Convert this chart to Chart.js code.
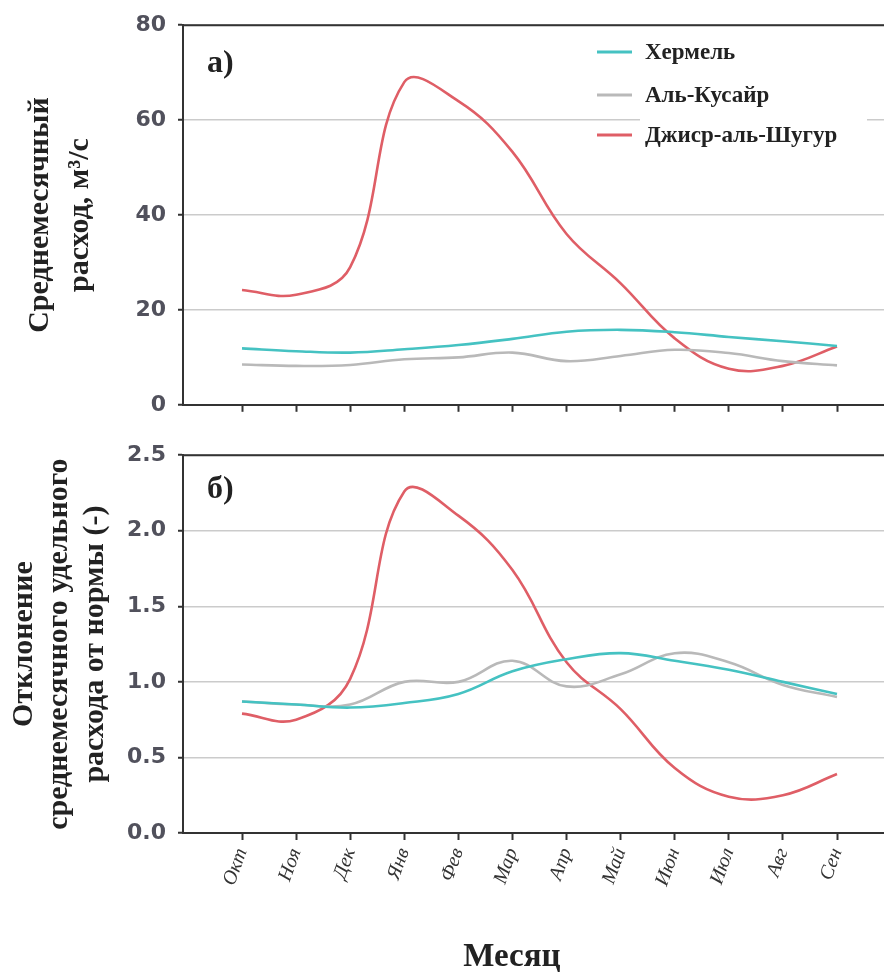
<!DOCTYPE html>
<html>
<head>
<meta charset="utf-8">
<script src="https://cdn.jsdelivr.net/npm/chart.js@4.4.1/dist/chart.umd.min.js"></script>
<style>
    body { margin: 0; background: #fff; }
    #wrap { position: relative; width: 884px; height: 974px; overflow: hidden; background: #fff; }
    #wrap canvas { position: absolute; left: 0; }
    #flowChart { top: 0; }
    #devChart { top: 430px; }
    #xTitle {
        position: absolute; top: 939px; left: 412px; width: 200px; text-align: center;
        font: bold 33px 'Liberation Serif', serif; line-height: 33px; color: #222;
    }
</style>
</head>
<body>
<div id="wrap">
    <canvas id="flowChart" width="884" height="430"></canvas>
    <canvas id="devChart" width="884" height="544"></canvas>
    <div id="xTitle">Месяц</div>
</div>
<script>
// --- data ---
const MONTHS = ['Окт', 'Ноя', 'Дек', 'Янв', 'Фев', 'Мар', 'Апр', 'Май', 'Июн', 'Июл', 'Авг', 'Сен'];
const SERIES_NAMES = ['Хермель', 'Аль-Кусайр', 'Джиср-аль-Шугур'];

// a) mean monthly discharge, m3/s
const FLOW_HERMEL = [11.9, 11.3, 11.0, 11.7, 12.6, 13.9, 15.4, 15.8, 15.3, 14.3, 13.4, 12.4];
const FLOW_QUSAYR = [8.5, 8.2, 8.4, 9.6, 10.0, 11.0, 9.2, 10.3, 11.6, 10.9, 9.2, 8.3];
const FLOW_SHUGHUR = [24.2, 23.2, 29.0, 68.0, 64.0, 53.3, 36.0, 25.6, 14.0, 7.6, 8.2, 12.3];
const FLOW_TICKS = [0, 20, 40, 60, 80];

// б) deviation of specific discharge from the norm
const DEV_HERMEL = [0.87, 0.85, 0.83, 0.86, 0.92, 1.07, 1.15, 1.19, 1.14, 1.08, 1.00, 0.92];
const DEV_QUSAYR = [0.87, 0.85, 0.85, 1.00, 1.00, 1.14, 0.97, 1.05, 1.19, 1.13, 0.98, 0.90];
const DEV_SHUGHUR = [0.79, 0.75, 1.02, 2.26, 2.10, 1.74, 1.13, 0.82, 0.43, 0.24, 0.25, 0.39];
const DEV_TICKS = [0, 0.5, 1.0, 1.5, 2.0, 2.5];

const COLORS = ['#45c2c2', '#b9b9b9', '#df5e66'];

// plot frame (chart area) in page pixels
const AREA_LEFT = 183;
const FIRST_X = 242, LAST_X = 837, RIGHT_X = 884;
const STEP = (LAST_X - FIRST_X) / (MONTHS.length - 1);
const X_MIN = -(FIRST_X - AREA_LEFT) / STEP;
const X_MAX = (MONTHS.length - 1) + (RIGHT_X - LAST_X) / STEP;

const TICK_FONT = { family: "'DejaVu Sans', Verdana, sans-serif", size: 22, weight: 'bold' };
const TITLE_FONT = "'Liberation Serif', 'Times New Roman', serif";

function toPoints(arr) {
    return arr.map((v, i) => ({ x: i, y: v }));
}

function makeDatasets(series) {
    return series.map((vals, i) => ({
        label: SERIES_NAMES[i],
        data: toPoints(vals),
        borderColor: COLORS[i],
        borderWidth: 2.6,
        pointRadius: 0,
        tension: 0.4,
        fill: false
    }));
}

function xScale(showLabels, canvasBottomSpace) {
    return {
        type: 'linear',
        min: X_MIN,
        max: X_MAX,
        afterBuildTicks: s => { s.ticks = MONTHS.map((m, i) => ({ value: i })); },
        afterFit: s => { s.height = canvasBottomSpace; },
        grid: { drawOnChartArea: false, tickLength: 7, tickColor: '#333', tickWidth: 2 },
        border: { color: '#333', width: 2 },
        ticks: {
            display: showLabels,
            autoSkip: false,
            minRotation: 70,
            maxRotation: 70,
            padding: 5,
            color: '#333',
            font: { family: TITLE_FONT, size: 20, style: 'italic' },
            callback: v => MONTHS[v] ?? ''
        }
    };
}

function yScale(min, max, tickList, fmt, titleLines, titleLH, titlePad) {
    return {
        min: min,
        max: max,
        afterBuildTicks: s => { s.ticks = tickList.map(v => ({ value: v })); },
        afterFit: s => { s.width = AREA_LEFT; },
        grid: { color: '#cbcbcb', lineWidth: 1.5, tickLength: 5, tickColor: '#333', tickWidth: 2 },
        border: { color: '#333', width: 2 },
        ticks: { color: '#51515c', font: TICK_FONT, padding: 12, callback: fmt },
        title: {
            display: true,
            text: titleLines,
            color: '#222',
            font: { family: TITLE_FONT, size: 30, weight: 'bold', lineHeight: titleLH },
            padding: { top: titlePad, bottom: 0 }
        }
    };
}

// top border + panel letter
function framePlugin(letter, letterY) {
    return {
        id: 'frame',
        afterDraw(chart) {
            const { ctx, chartArea: a } = chart;
            ctx.save();
            ctx.strokeStyle = '#333';
            ctx.lineWidth = 2;
            ctx.beginPath();
            ctx.moveTo(a.left, a.top);
            ctx.lineTo(a.right, a.top);
            ctx.stroke();
            ctx.fillStyle = '#222';
            ctx.font = `bold 32px ${TITLE_FONT}`;
            ctx.textBaseline = 'middle';
            ctx.fillText(letter, 207, letterY);
            ctx.restore();
        }
    };
}

// legend sitting inside panel a)
const legendPlugin = {
    id: 'innerLegend',
    beforeDatasetsDraw(chart) {
        const ctx = chart.ctx;
        ctx.save();
        ctx.fillStyle = '#fff';
        ctx.fillRect(640, 30, 227, 120);
        const rows = [52, 95, 135];
        ctx.font = `bold 23px ${TITLE_FONT}`;
        ctx.textBaseline = 'middle';
        SERIES_NAMES.forEach((name, i) => {
            ctx.strokeStyle = COLORS[i];
            ctx.lineWidth = 3;
            ctx.beginPath();
            ctx.moveTo(597, rows[i]);
            ctx.lineTo(632, rows[i]);
            ctx.stroke();
            ctx.fillStyle = '#222';
            ctx.fillText(name, 645, rows[i] + 1);
        });
        ctx.restore();
    }
};

const baseOptions = {
    responsive: false,
    animation: false,
    events: [],
    plugins: { legend: { display: false }, tooltip: { enabled: false } }
};

new Chart(document.getElementById('flowChart'), {
    type: 'line',
    data: { datasets: makeDatasets([FLOW_HERMEL, FLOW_QUSAYR, FLOW_SHUGHUR]) },
    options: {
        ...baseOptions,
        layout: { padding: { top: 21, right: 0, bottom: 0, left: 0 } },
        scales: {
            x: xScale(false, 430 - 407),
            y: yScale(0, 80, FLOW_TICKS, v => v, ['Среднемесячный', 'расход, м³/с'], 1.33, 20)
        }
    },
    plugins: [legendPlugin, framePlugin('а)', 64)]
});

new Chart(document.getElementById('devChart'), {
    type: 'line',
    data: { datasets: makeDatasets([DEV_HERMEL, DEV_QUSAYR, DEV_SHUGHUR]) },
    options: {
        ...baseOptions,
        layout: { padding: { top: 22, right: 0, bottom: 0, left: 0 } },
        scales: {
            x: xScale(true, 974 - 833),
            y: yScale(0, 2.5, DEV_TICKS, v => Number(v).toFixed(1),
                ['Отклонение', 'среднемесячного удельного', 'расхода от нормы (-)'], 1.17, 7)
        }
    },
    plugins: [framePlugin('б)', 60)]
});
</script>
</body>
</html>
